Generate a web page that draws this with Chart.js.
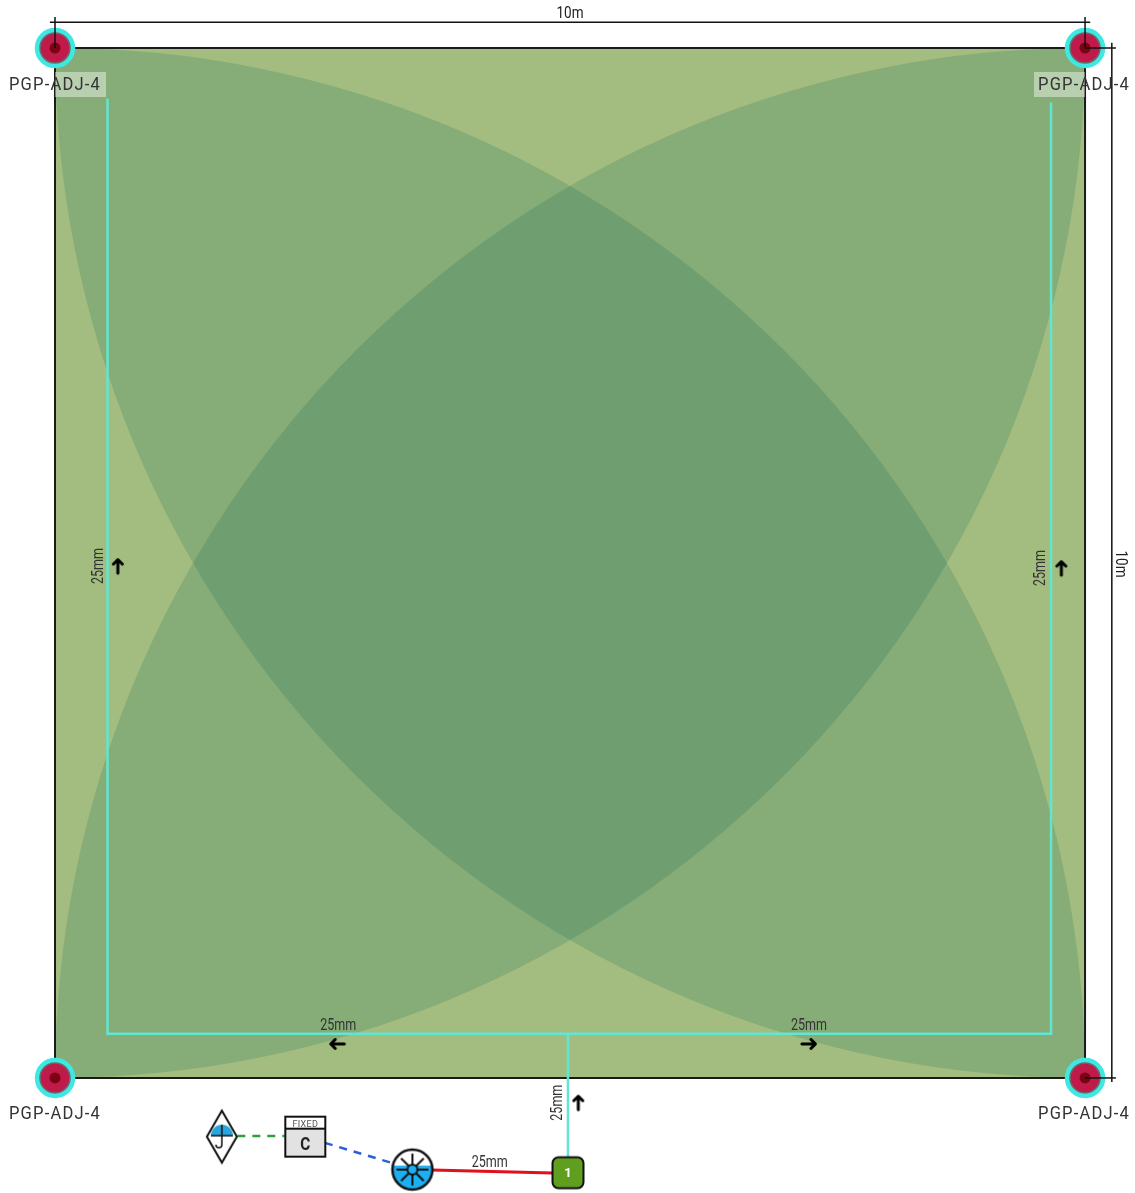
<!DOCTYPE html>
<html lang="en">
<head>
  <meta charset="UTF-8">
  <title>Irrigation plan</title>
  <script src="https://cdn.jsdelivr.net/npm/chart.js"></script>
  <style>
    body { margin: 0; background: #fff; }
    canvas { display: block; }
  </style>
</head>
<body>
<canvas id="plan" width="1135" height="1193"></canvas>

<script>
// all values in metres, the plot is a 10m x 10m lawn
const throwRadius = 10;
const headX = [0, 10, 0, 10];
const headY = [10, 10, 0, 0];

const edgeX = [0, 10, 10, 0, 0];
const edgeY = [10, 10, 0, 0, 10];

const lateralX = [0.51, 0.51, 9.67, 9.67];
const lateralY = [9.51, 0.43, 0.43, 9.47];
const branchX = [4.98, 4.98];
const branchY = [0.43, -0.8];

const mainX = [3.66, 4.83];
const mainY = [-0.893, -0.922];
const wireBlueX = [2.62, 3.27];
const wireBlueY = [-0.63, -0.825];
const wireGreenX = [1.77, 2.23];
const wireGreenY = [-0.563, -0.563];

const dimTopX = [-0.05, 10.05];
const dimTopY = [10.25, 10.25];
const dimRightX = [10.26, 10.26];
const dimRightY = [10.05, -0.04];
const tickLeftX = [0, 0];
const tickLeftY = [10, 10.3];
const tickRightX = [10, 10];
const tickRightY = [10, 10.3];
const tickUpperX = [10, 10.3];
const tickUpperY = [10, 10];
const tickLowerX = [10, 10.3];
const tickLowerY = [0, 0];

const sensorX = [1.62];
const sensorY = [-0.57];
const valveX = [2.43];
const valveY = [-0.57];
const hubX = [3.47];
const hubY = [-0.89];
const pumpX = [4.98];
const pumpY = [-0.92];

const headLabel = 'PGP-ADJ-4';
const headLabelX = [0, 9.99, 0, 9.99];
const headLabelY = [9.65, 9.65, -0.34, -0.34];
const plateX = [0.245, 9.755];
const plateY = [9.65, 9.65];

const sizeLabels = ['25mm', '25mm', '25mm', '25mm', '25mm', '25mm'];
const sizeLabelX = [0.41, 9.56, 2.75, 7.32, 4.87, 4.22];
const sizeLabelY = [4.97, 4.95, 0.52, 0.52, -0.24, -0.81];
const sizeLabelTurn = [-90, -90, 0, 0, -90, 0];

const lengthLabels = ['10m', '10m'];
const lengthLabelX = [5, 10.35];
const lengthLabelY = [10.34, 4.99];
const lengthLabelTurn = [0, 90];

const arrowX = [0.61, 9.77, 2.74, 7.32, 5.08];
const arrowY = [4.97, 4.95, 0.33, 0.33, -0.24];
const arrowTurn = [0, 0, -90, 90, 0];

const xy = (xs, ys) => xs.map((x, i) => ({ x, y: ys[i] }));

function icon(w, h, draw) {
  const c = document.createElement('canvas');
  c.width = w;
  c.height = h;
  const g = c.getContext('2d');
  g.translate(w / 2, h / 2);
  draw(g);
  return c;
}

const arrowIcon = icon(20, 20, g => {
  g.strokeStyle = '#000';
  g.lineWidth = 3;
  g.lineCap = 'round';
  g.lineJoin = 'round';
  g.beginPath();
  g.moveTo(0, 7); g.lineTo(0, -6);
  g.moveTo(-4.5, -2); g.lineTo(0, -6.5); g.lineTo(4.5, -2);
  g.stroke();
});

const sensorIcon = icon(36, 58, g => {
  g.lineWidth = 2;
  g.strokeStyle = '#111';
  g.fillStyle = '#fff';
  g.beginPath();
  g.moveTo(0, -26); g.lineTo(15, 0); g.lineTo(0, 26); g.lineTo(-15, 0); g.closePath();
  g.fill(); g.stroke();
  g.fillStyle = '#2aa5dc';
  g.beginPath();
  g.arc(0, -1, 11, Math.PI, 0);
  g.closePath();
  g.fill();
  g.lineWidth = 1.5;
  g.beginPath();
  g.moveTo(-11, -1); g.lineTo(11, -1);
  g.moveTo(0, -12); g.lineTo(0, 8);
  g.arc(-3, 8, 3, 0, Math.PI);
  g.stroke();
});

const valveIcon = icon(44, 44, g => {
  g.fillStyle = '#e2e2e2';
  g.fillRect(-20, -20, 40, 40);
  g.fillStyle = '#fff';
  g.fillRect(-20, -20, 40, 12);
  g.lineWidth = 2;
  g.strokeStyle = '#111';
  g.strokeRect(-20, -20, 40, 40);
  g.beginPath();
  g.moveTo(-20, -8); g.lineTo(20, -8);
  g.stroke();
});

const hubIcon = icon(46, 46, g => {
  g.fillStyle = '#fff';
  g.beginPath(); g.arc(0, 0, 20, 0, Math.PI * 2); g.fill();
  g.save();
  g.beginPath(); g.arc(0, 0, 20, 0, Math.PI * 2); g.clip();
  g.fillStyle = '#1cb0f2';
  g.fillRect(-21, -4, 42, 26);
  g.restore();
  g.strokeStyle = '#111';
  g.lineWidth = 2;
  for (let i = 0; i < 8; i++) {
    const a = i * Math.PI / 4;
    g.beginPath();
    g.moveTo(0, 0);
    g.lineTo(Math.cos(a) * 16, Math.sin(a) * 16);
    g.stroke();
  }
  g.fillStyle = '#1cb0f2';
  g.beginPath(); g.arc(0, 0, 5, 0, Math.PI * 2); g.fill(); g.stroke();
  g.lineWidth = 2.5;
  g.beginPath(); g.arc(0, 0, 20, 0, Math.PI * 2); g.stroke();
});

const pumpIcon = icon(36, 36, g => {
  g.fillStyle = '#5f9e1f';
  g.strokeStyle = '#111';
  g.lineWidth = 2;
  g.beginPath();
  g.roundRect(-15.5, -15.5, 31, 31, 6);
  g.fill(); g.stroke();
});

const plateIcon = icon(51, 25, g => {
  g.fillStyle = 'rgba(255,255,255,0.42)';
  g.fillRect(-25.5, -12.5, 51, 25);
});

function line(xs, ys, color, width, dash) {
  return {
    data: xy(xs, ys),
    borderColor: color,
    borderWidth: width,
    borderDash: dash || [],
    pointRadius: 0,
    showLine: true,
    tension: 0
  };
}

function points(xs, ys, style) {
  return {
    data: xy(xs, ys),
    showLine: false,
    pointStyle: style,
    pointRadius: 10
  };
}

function disc(radius, fill, border, borderWidth) {
  return {
    data: xy(headX, headY),
    showLine: false,
    pointRadius: radius,
    pointBackgroundColor: fill,
    pointBorderColor: border,
    pointBorderWidth: borderWidth
  };
}

// bottom to top
const layers = [
  // lawn
  Object.assign(line([0, 10], [10, 10], 'rgba(0,0,0,0)', 0), {
    fill: { value: 0 },
    backgroundColor: '#ebe793'
  }),
  // spray arcs, radius follows the x scale and the circles are cut at the lawn edge
  {
    data: xy(headX, headY),
    showLine: false,
    pointRadius: c => c.chart.scales.x.getPixelForValue(throwRadius) - c.chart.scales.x.getPixelForValue(0),
    pointBackgroundColor: 'rgba(0,95,85,0.17)',
    pointBorderWidth: 0,
    clip: { left: -55, top: -48, right: -50, bottom: -115 }
  },
  line(edgeX, edgeY, '#1a1a1a', 2),
  disc(19, '#3fe8e2', '#3fe8e2', 2.5),
  disc(15, '#c01a4a', '#6a6a6a', 1.5),
  disc(5.5, '#7c0312', '#7c0312', 0),
  points(plateX, plateY, plateIcon),
  line(lateralX, lateralY, '#62e6d2', 2.5),
  line(branchX, branchY, '#62e6d2', 2.5),
  line(dimTopX, dimTopY, '#111', 1.5),
  line(dimRightX, dimRightY, '#111', 1.5),
  line(tickLeftX, tickLeftY, '#111', 1.5),
  line(tickRightX, tickRightY, '#111', 1.5),
  line(tickUpperX, tickUpperY, '#111', 1.5),
  line(tickLowerX, tickLowerY, '#111', 1.5),
  line(mainX, mainY, '#e0101c', 3),
  line(wireBlueX, wireBlueY, '#2a5fd8', 2.5, [8, 7]),
  line(wireGreenX, wireGreenY, '#2e9e3e', 2.5, [8, 7]),
  Object.assign(points(arrowX, arrowY, arrowIcon), { pointRotation: arrowTurn }),
  points(sensorX, sensorY, sensorIcon),
  points(valveX, valveY, valveIcon),
  points(hubX, hubY, hubIcon),
  points(pumpX, pumpY, pumpIcon)
];
layers.forEach((d, i) => { d.order = -i; });

const planText = {
  id: 'planText',
  afterDatasetsDraw(chart) {
    const { ctx, scales } = chart;
    const put = (text, x, y, turn, font, color, spacing, maxWidth) => {
      ctx.save();
      ctx.translate(scales.x.getPixelForValue(x), scales.y.getPixelForValue(y));
      ctx.rotate((turn || 0) * Math.PI / 180);
      ctx.font = font;
      ctx.fillStyle = color;
      ctx.textAlign = 'center';
      ctx.textBaseline = 'middle';
      ctx.letterSpacing = spacing;
      ctx.fillText(text, 0, 1.5, maxWidth);
      ctx.restore();
    };
    headLabelX.forEach((x, i) => put(headLabel, x, headLabelY[i], 0, '18px Roboto', '#333', '1.3px', 92));
    sizeLabels.forEach((t, i) => put(t, sizeLabelX[i], sizeLabelY[i], sizeLabelTurn[i], '16px Roboto', '#333', '0px', 36));
    lengthLabels.forEach((t, i) => put(t, lengthLabelX[i], lengthLabelY[i], lengthLabelTurn[i], '16px Roboto', '#222', '0px', 27));
    put('FIXED', valveX[0], valveY[0] + 0.13, 0, '9px Roboto', '#555', '0.3px');
    put('C', valveX[0], valveY[0] - 0.07, 0, 'bold 18px Roboto', '#222', '0px', 10);
    put('1', pumpX[0], pumpY[0], 0, 'bold 13px Roboto', '#fff', '0px');
  }
};

new Chart(document.getElementById('plan'), {
  type: 'scatter',
  data: { datasets: layers },
  options: {
    responsive: false,
    animation: false,
    events: [],
    layout: { padding: 0, autoPadding: false },
    plugins: { legend: { display: false }, tooltip: { enabled: false } },
    scales: {
      x: { display: false, min: -0.534, max: 10.485 },
      y: { display: false, min: -1.117, max: 10.466 }
    }
  },
  plugins: [planText]
});
</script>
</body>
</html>
